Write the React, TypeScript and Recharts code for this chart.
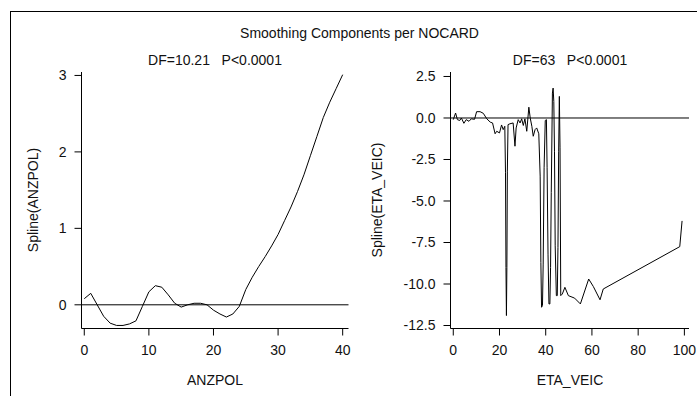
import React from 'react';
import { LineChart, Line, XAxis, YAxis, ReferenceLine } from 'recharts';

const FONT = '"Liberation Sans", Arial, Helvetica, sans-serif';
const TEXT = '#111';

const mainTitle = 'Smoothing Components per NOCARD';
const leftSubtitle = 'DF=10.21   P<0.0001';
const rightSubtitle = 'DF=63   P<0.0001';
const leftXLabel = 'ANZPOL';
const leftYLabel = 'Spline(ANZPOL)';
const rightXLabel = 'ETA_VEIC';
const rightYLabel = 'Spline(ETA_VEIC)';

const anzpolX = [0, 1, 2, 3, 4, 5, 6, 7, 8, 9, 10, 11, 12, 13, 14, 15, 16, 17, 18, 19, 20,
  21, 22, 23, 24, 25, 26, 27, 28, 29, 30, 31, 32, 33, 34, 35, 36, 37, 38, 39, 40];
const anzpolSpline = [0.08, 0.15, 0.0, -0.15, -0.24, -0.27, -0.27, -0.25, -0.21, -0.02, 0.17,
  0.25, 0.23, 0.13, 0.02, -0.03, 0.0, 0.02, 0.02, 0.0, -0.07,
  -0.12, -0.16, -0.12, -0.02, 0.2, 0.36, 0.5, 0.63, 0.77, 0.92,
  1.1, 1.28, 1.48, 1.7, 1.95, 2.2, 2.45, 2.65, 2.83, 3.01];
const anzpolXTicks = [0, 10, 20, 30, 40];
const anzpolYTicks = [0, 1, 2, 3];

const etaX = [0, 1, 1.8, 2.8, 3.5, 4.6, 5.6, 6.8, 7.8, 9.2, 10.1, 11.6, 13.0, 14.5, 16.0, 17.0,
  18.1, 18.8, 20.0, 20.9, 21.6, 22.3, 22.6, 22.8, 23.0, 23.2, 23.4, 23.7, 24.5, 25.9, 26.7,
  27.2, 28.1, 28.9, 29.6, 30.3, 31.0, 31.8, 32.7, 33.3, 34.0, 34.6, 35.4, 36.1, 37.0, 37.6,
  37.9, 38.2, 38.6, 38.9, 39.3, 39.8, 40.3, 40.6, 41.0, 41.4, 41.8, 42.1, 42.4, 42.9, 43.2,
  43.5, 43.8, 44.1, 44.6, 45.0, 45.3, 45.6, 45.9, 46.2, 46.5, 47.2, 48.3, 49.8, 52.5, 55.0,
  58.6, 60.6, 63.5, 64.9, 98.0, 99.0];
const etaSpline = [-0.1, 0.3, -0.1, -0.15, 0.0, -0.32, -0.1, -0.2, -0.05, -0.08, 0.38, 0.38, 0.28, -0.05, -0.25, -0.3,
  -0.95, -0.8, -0.9, -0.42, -0.7, -0.5, -3.3, -9.0, -11.9, -9.0, -3.2, -0.4, -0.35, -0.3, -1.7,
  -0.6, -0.1, -0.3, -0.05, -0.45, -0.05, -0.8, 0.65, 0.0, -0.5, -1.1, -0.7, -0.6, -0.95, -3.5,
  -8.7, -11.4, -11.3, -8.8, -3.0, -0.15, -0.1, -3.0, -8.2, -11.2, -11.2, -9.0, -4.5, 1.5, 1.8,
  1.0, -2.0, -7.7, -10.7, -10.7, -7.8, -2.0, 1.3, -1.8, -10.7, -10.6, -10.2, -10.7, -10.85, -11.2,
  -9.7, -10.15, -10.95, -10.3, -7.75, -6.2];
const etaXTicks = [0, 20, 40, 60, 80, 100];
const etaYTicks = [-12.5, -10, -7.5, -5, -2.5, 0, 2.5];

const anzpolData = anzpolX.map((x, i) => ({ x, y: anzpolSpline[i] }));
const etaData = etaX.map((x, i) => ({ x, y: etaSpline[i] }));

const tickStyle = { fill: TEXT, fontSize: 14, fontFamily: FONT };
const lineStyle = { stroke: '#000', strokeWidth: 1 };

function Label({ text, x, y, rotate = false }: { text: string; x: number; y: number; rotate?: boolean }) {
  return (
    <div
      style={{
        position: 'absolute',
        left: x,
        top: y,
        transform: `translate(-50%, -50%)${rotate ? ' rotate(-90deg)' : ''}`,
        fontFamily: FONT,
        fontSize: 14,
        color: TEXT,
        whiteSpace: 'pre',
        lineHeight: '16px',
      }}
    >
      {text}
    </div>
  );
}

export default function App() {
  return (
    <div
      style={{
        position: 'absolute',
        left: 0,
        top: 0,
        width: 697,
        height: 396,
        overflow: 'hidden',
        background: '#fff',
      }}
    >
      <div
        style={{
          position: 'absolute',
          left: 10,
          top: 11,
          width: 800,
          height: 500,
          borderLeft: '1px solid #000',
          borderTop: '1px solid #000',
        }}
      />
      <Label text={mainTitle} x={359.5} y={33} />
      <Label text={leftSubtitle} x={215} y={60} />
      <Label text={rightSubtitle} x={570} y={60} />
      <Label text={leftXLabel} x={215} y={380} />
      <Label text={rightXLabel} x={570} y={380} />
      <Label text={leftYLabel} x={33} y={200} rotate />
      <Label text={rightYLabel} x={377} y={200} rotate />

      <div style={{ position: 'absolute', left: 0, top: 0 }}>
        <LineChart width={360} height={396} data={anzpolData} margin={{ top: 72, right: 11.5, bottom: 0, left: 0 }}>
          <XAxis
            type="number"
            dataKey="x"
            domain={[-0.43, 40.9]}
            ticks={anzpolXTicks}
            interval={0}
            allowDataOverflow
            height={67.5}
            tickSize={7}
            tickMargin={10}
            axisLine={lineStyle}
            tickLine={lineStyle}
            tick={tickStyle}
          />
          <YAxis
            type="number"
            domain={[-0.31, 3.045]}
            ticks={anzpolYTicks}
            interval={0}
            allowDataOverflow
            width={81.5}
            tickSize={7}
            tickMargin={8}
            axisLine={lineStyle}
            tickLine={lineStyle}
            tick={tickStyle}
          />
          <ReferenceLine y={0} stroke="#000" strokeWidth={1} />
          <Line type="linear" dataKey="y" stroke="#000" strokeWidth={1} dot={false} isAnimationActive={false} />
        </LineChart>
      </div>

      <div style={{ position: 'absolute', left: 370, top: 0 }}>
        <LineChart width={327} height={396} data={etaData} margin={{ top: 72, right: 8, bottom: 0, left: 0 }}>
          <XAxis
            type="number"
            dataKey="x"
            domain={[-1.2, 102]}
            ticks={etaXTicks}
            interval={0}
            allowDataOverflow
            height={67.5}
            tickSize={7}
            tickMargin={10}
            axisLine={lineStyle}
            tickLine={lineStyle}
            tick={tickStyle}
          />
          <YAxis
            type="number"
            domain={[-12.68, 2.77]}
            ticks={etaYTicks}
            interval={0}
            allowDataOverflow
            width={80.5}
            tickSize={7}
            tickMargin={8}
            tickFormatter={(v: number) => v.toFixed(1)}
            axisLine={lineStyle}
            tickLine={lineStyle}
            tick={tickStyle}
          />
          <ReferenceLine y={0} stroke="#000" strokeWidth={1} />
          <Line type="linear" dataKey="y" stroke="#000" strokeWidth={1} dot={false} isAnimationActive={false} />
        </LineChart>
      </div>
    </div>
  );
}
